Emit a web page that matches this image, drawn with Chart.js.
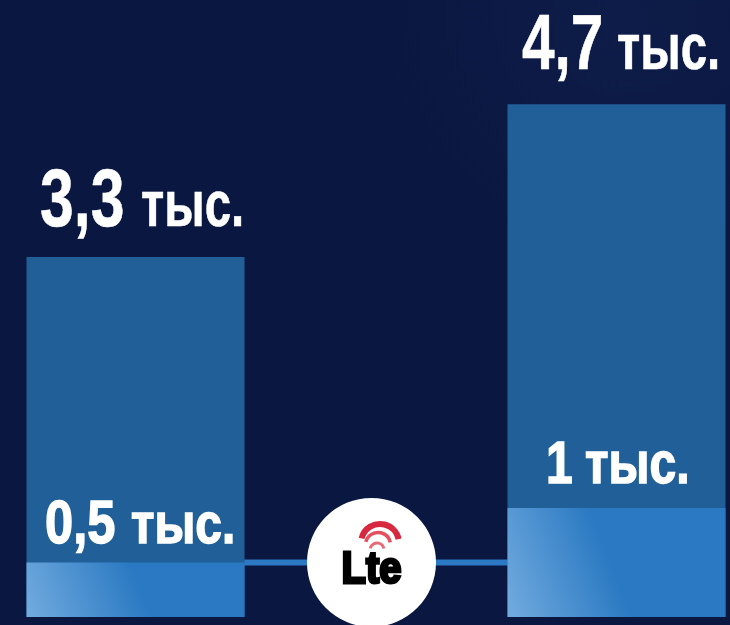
<!DOCTYPE html>
<html>
<head>
<meta charset="utf-8">
<style>
    html, body { margin: 0; padding: 0; overflow: hidden; width: 730px; height: 625px; }
    body { background: radial-gradient(circle at 85% 3%, #0e1c49 0, #0a1740 28%); }
    #wrap { position: absolute; left: 0; top: 0; width: 740px; height: 625px; }
</style>
<script src="https://cdn.jsdelivr.net/npm/chart.js@4/dist/chart.umd.min.js"></script>
</head>
<body>
<div id="wrap"><canvas id="chart"></canvas></div>
<script>
// Chart values, in thousands
const categories = ['До', 'LTE', 'После'];
const totalValues = [3.3, null, 4.7];
const lteValues = [0.5, null, 1];
const connectorValues = [0.5, 0.5, 0.5];
const totalLabels = ['3,3', null, '4,7'];
const lteLabels = ['0,5', null, '1'];
const unitLabel = 'тыс.';

const FONT = '"Liberation Sans", sans-serif';

const ctx = document.getElementById('chart').getContext('2d');

function lteGradient(context) {
    const chart = context.chart;
    if (!chart.chartArea) return '#2a79c2';
    const x = chart.scales.x;
    const y = chart.scales.y;
    const half = x.width / 3 * 0.9065 / 2;
    const left = x.getPixelForValue(context.dataIndex) - half;
    const bottom = y.getPixelForValue(0);
    const g = chart.ctx.createLinearGradient(left, bottom, left + half * 0.99, bottom - half * 0.39);
    g.addColorStop(0, '#72abdf');
    g.addColorStop(1, '#2a79c2');
    return g;
}

// text over the bars and the logo between them
const annotations = {
    id: 'annotations',
    afterDatasetsDraw(chart) {
        const c = chart.ctx;
        const x = chart.scales.x;
        const y = chart.scales.y;

        function squeezed(text, left, baseline, size, squeeze, weight) {
            c.save();
            c.translate(left, baseline);
            c.scale(squeeze, 1);
            c.font = 'bold ' + size + 'px ' + FONT;
            c.fillStyle = '#ffffff';
            c.strokeStyle = '#ffffff';
            c.lineWidth = weight;
            c.textAlign = 'left';
            c.textBaseline = 'alphabetic';
            c.fillText(text, 0, 0);
            c.strokeText(text, 0, 0);
            c.restore();
        }

        squeezed(totalLabels[0], 40, 226, 81, 0.75, 0.6);
        squeezed(unitLabel, 141, 226, 64, 0.74, 0.6);
        squeezed(totalLabels[2], 522, 69, 78, 0.75, 0.6);
        squeezed(unitLabel, 617, 69, 64, 0.74, 0.6);
        squeezed(lteLabels[0], 45, 543, 61, 0.83, 1.5);
        squeezed(unitLabel, 131, 543, 57, 0.84, 1.5);
        squeezed(lteLabels[2], 546, 483, 60, 0.8, 1.5);
        squeezed(unitLabel, 585, 483, 60, 0.8, 1.5);

        // LTE logo
        const lx = x.getPixelForValue(1) - 4.5;
        const ly = y.getPixelForValue(connectorValues[1]);
        c.save();
        c.fillStyle = '#ffffff';
        c.beginPath();
        c.arc(lx, ly, 64.5, 0, Math.PI * 2);
        c.fill();
        c.fillStyle = '#000000';
        c.strokeStyle = '#000000';
        c.lineWidth = 3;
        c.font = 'bold 45px ' + FONT;
        c.textAlign = 'center';
        c.textBaseline = 'alphabetic';
        c.fillText('Lte', lx, ly + 21, 60);
        c.strokeText('Lte', lx, ly + 21, 60);
        [[8.5, -19.5, 19, 6, '#d8283f'], [6.5, -17.5, 12.5, 3.5, '#e4505f'], [5.5, -12.5, 7, 3, '#e86a7a']].forEach(([dx, dy, r, w, col]) => {
            c.strokeStyle = col;
            c.lineWidth = w;
            c.beginPath();
            c.arc(lx + dx, ly + dy, r, -2.9, -0.2);
            c.stroke();
        });
        c.restore();
    }
};

new Chart(ctx, {
    data: {
        labels: categories,
        datasets: [
            {
                type: 'line',
                data: connectorValues,
                borderColor: '#2a79c2',
                borderWidth: 6,
                pointRadius: 0,
                order: 3
            },
            {
                type: 'bar',
                data: totalValues,
                backgroundColor: '#205f97',
                order: 2
            },
            {
                type: 'bar',
                data: lteValues,
                backgroundColor: lteGradient,
                order: 1
            }
        ]
    },
    options: {
        responsive: true,
        maintainAspectRatio: false,
        animation: false,
        layout: { padding: { left: 15.25, right: 3.25, top: 0, bottom: 8 } },
        datasets: { bar: { grouped: false, barPercentage: 0.9065, categoryPercentage: 1 } },
        plugins: { legend: { display: false }, tooltip: { enabled: false } },
        scales: {
            x: { display: false },
            y: { display: false, min: 0, max: 5.655 }
        }
    },
    plugins: [annotations]
});
</script>
</body>
</html>
